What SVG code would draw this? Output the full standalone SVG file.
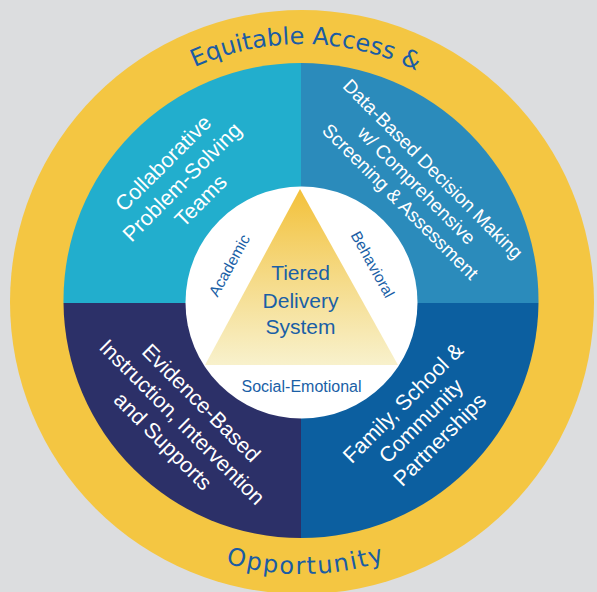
<svg xmlns="http://www.w3.org/2000/svg" width="597" height="592" viewBox="0 0 597 592">
  <style>
    .q { font-family: "Liberation Sans", Arial, sans-serif; fill: #ffffff; text-anchor: middle; }
    .ql { font-size: 21.5px; }
    .qs { font-size: 19px; }
    .blue { fill: #1a5fa6; font-family: "Liberation Sans", Arial, sans-serif; text-anchor: middle; }
    .ring { fill: #1a5ca4; font-family: "DejaVu Sans", Verdana, sans-serif; font-size: 24px; }
  </style>
  <defs>
    <linearGradient id="tri" x1="0" y1="189" x2="0" y2="365" gradientUnits="userSpaceOnUse">
      <stop offset="0" stop-color="#f3c13a"/>
      <stop offset="0.5" stop-color="#f5da86"/>
      <stop offset="1" stop-color="#f8f1cc"/>
    </linearGradient>
    <path id="topArc" d="M 44,302 A 258,258 0 0 1 560,302"/>
    <path id="botArc" d="M 30,302 A 272,272 0 0 0 574,302"/>
  </defs>
  <rect x="0" y="0" width="597" height="592" fill="#dcdddf"/>

  <g id="ring">
    <circle cx="302" cy="302" r="292" fill="#f4c642"/>
    <text class="ring"><textPath href="#topArc" startOffset="409" text-anchor="middle">Equitable Access &amp;</textPath></text>
    <text class="ring" letter-spacing="1.7"><textPath href="#botArc" startOffset="431" text-anchor="middle">Opportunity</textPath></text>
  </g>

  <g id="q-collaborative">
    <path d="M301,303 V63 A237.5,237.5 0 0 0 63.5,303 Z" fill="#22aecd"/>
    <g transform="translate(301,301) rotate(-45)" class="q ql">
      <text x="0" y="-187.5">Collaborative</text>
      <text x="0" y="-161">Problem-Solving</text>
      <text x="0" y="-134.5">Teams</text>
    </g>
  </g>

  <g id="q-data">
    <path d="M301,303 V63 A237.5,237.5 0 0 1 538.5,303 Z" fill="#2b8bbb"/>
    <g transform="translate(301,301) rotate(45)" class="q qs">
      <text x="0" y="-180">Data-Based Decision Making</text>
      <text x="0" y="-157">w/ Comprehensive</text>
      <text x="0" y="-134">Screening &amp; Assessment</text>
    </g>
  </g>

  <g id="q-evidence">
    <path d="M301,303 H63.5 A237.5,237.5 0 0 0 301,538 Z" fill="#2c3068"/>
    <g transform="translate(301,301) rotate(45)" class="q ql">
      <text x="1.5" y="150">Evidence-Based</text>
      <text x="1.5" y="177">Instruction, Intervention</text>
      <text x="1.5" y="204">and Supports</text>
    </g>
  </g>

  <g id="q-family">
    <path d="M301,303 V538 A237.5,237.5 0 0 0 538.5,303 Z" fill="#0c5fa0"/>
    <g transform="translate(301,301) rotate(-45)" class="q ql">
      <text x="0" y="151.5">Family, School &amp;</text>
      <text x="0" y="177">Community</text>
      <text x="0" y="203.5">Partnerships</text>
    </g>
  </g>

  <g id="center">
    <circle cx="301.5" cy="302.5" r="116" fill="#ffffff"/>
    <text class="blue" font-size="15.5" transform="translate(234,268) rotate(-61)">Academic</text>
    <text class="blue" font-size="15.5" transform="translate(368,267) rotate(61)">Behavioral</text>
    <text class="blue" font-size="16" x="301.5" y="392">Social-Emotional</text>
  </g>

  <g id="triangle">
    <polygon points="300,189 205,365 398,365" fill="url(#tri)"/>
    <text class="blue" font-size="21" x="300.5" y="280">Tiered</text>
    <text class="blue" font-size="21" x="300.5" y="307.5">Delivery</text>
    <text class="blue" font-size="21" x="300.5" y="334">System</text>
  </g>

  <g id="connectors"></g>
</svg>
